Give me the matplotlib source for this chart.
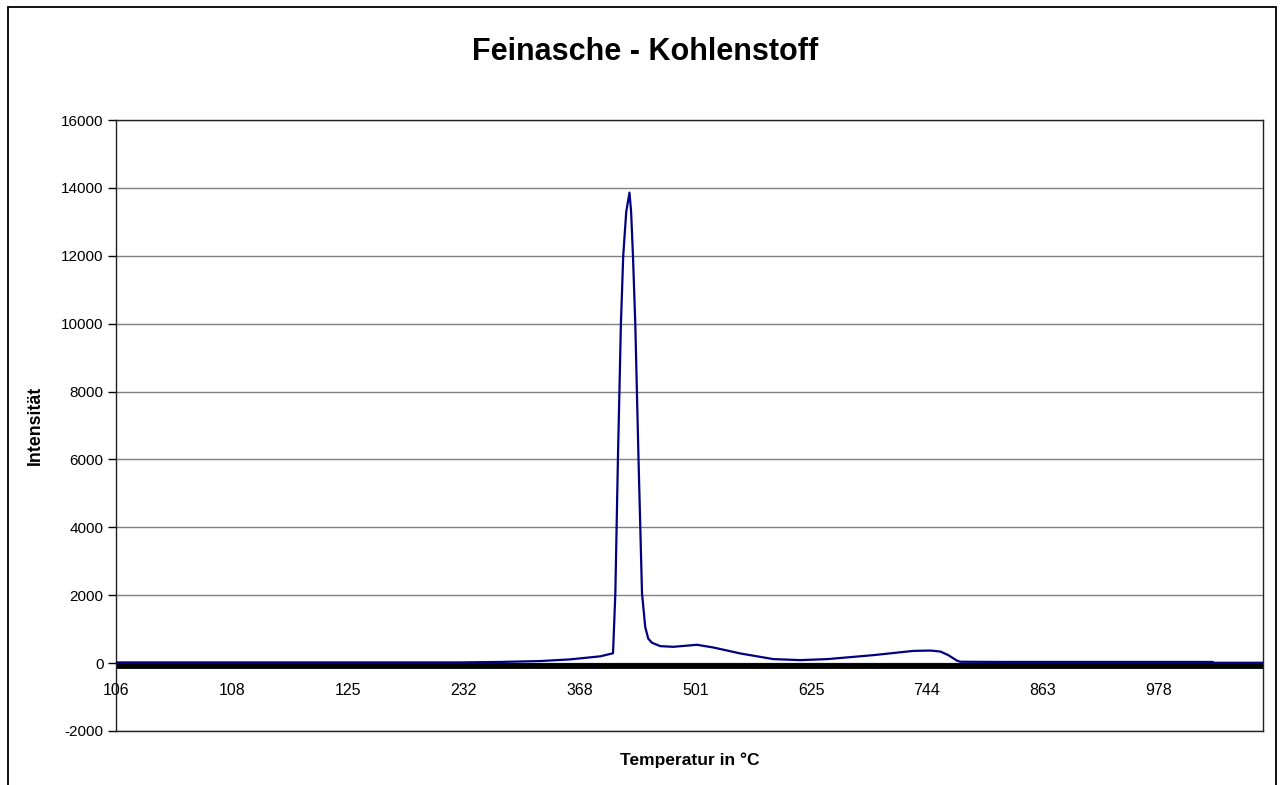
import matplotlib.pyplot as plt
from matplotlib.patches import Rectangle

plt.rcParams['font.family'] = ['Liberation Sans', 'DejaVu Sans']
plt.rcParams['axes.unicode_minus'] = False

# category labels (temperature) shown every 50 samples
temp_labels = ['106', '108', '125', '232', '368', '501', '625', '744', '863', '978']
label_samples = [0, 50, 100, 150, 200, 250, 300, 350, 400, 450]
n_samples = 495

# intensity curve (sample number, intensity)
sample = [0, 79, 148, 166, 183, 196, 209, 214.5, 215.5, 216.6, 217.9, 218.9,
          220.2, 221.6, 222.3, 223.1, 224.1, 225.5, 227.0, 228.4, 229.7, 231.3,
          234.9, 240.5, 250.7, 257.8, 269.4, 283.7, 295.3, 307.0, 326.9, 344.1,
          351.5, 355.8, 359.2, 363.0, 364.4, 381.7, 473.2, 474, 495]
intensity = [20, 20, 20, 35, 60, 110, 200, 290, 2060, 5980, 10000, 12000,
             13300, 13860, 13300, 12000, 10000, 6000, 2060, 1060, 720, 600,
             500, 480, 540, 460, 285, 118, 88, 118, 235, 360,
             370, 340, 235, 70, 40, 35, 35, 10, 10]

fig = plt.figure(figsize=(12.82, 7.85), dpi=100)
ax = fig.add_axes([116 / 1282, 1 - 731 / 785, (1263 - 116) / 1282, (731 - 120) / 785])

ax.set_xlim(0, n_samples)
ax.set_ylim(-2000, 16000)
ax.set_yticks(range(-2000, 16001, 2000))
ax.yaxis.grid(True, color='#808080', lw=1)
ax.set_axisbelow(True)

# thick zero axis line
ax.axhline(-75, color='black', lw=4.2, zorder=2)
ax.plot(sample, intensity, color='#000080', lw=1.6, zorder=3)

# x labels sit just under the zero line
ax.set_xticks([])
for pos, txt in zip(label_samples, temp_labels):
    ax.text(pos, -800, txt, ha='center', va='center', fontsize=11.5)

ax.tick_params(axis='y', length=6, width=1, labelsize=11, pad=3)
for s in ax.spines.values():
    s.set_color('#202020')
    s.set_linewidth(1)

fig.text(35 / 1282, 1 - 425 / 785, 'Intensität', rotation=90, ha='center', va='center',
         fontsize=12.8, fontweight='bold')
fig.text(690 / 1282, 1 - 760 / 785, 'Temperatur in °C', ha='center', va='center',
         fontsize=12.5, fontweight='bold')
fig.text(645 / 1282, 1 - 52 / 785, 'Feinasche - Kohlenstoff', ha='center', va='center',
         fontsize=22, fontweight='bold')

fig.add_artist(Rectangle((8 / 1282, -0.05), 1268 / 1282, 1.05 - 7 / 785,
                         transform=fig.transFigure, fill=False, lw=1.3, color='black'))

fig.savefig('out.png', dpi=100)
